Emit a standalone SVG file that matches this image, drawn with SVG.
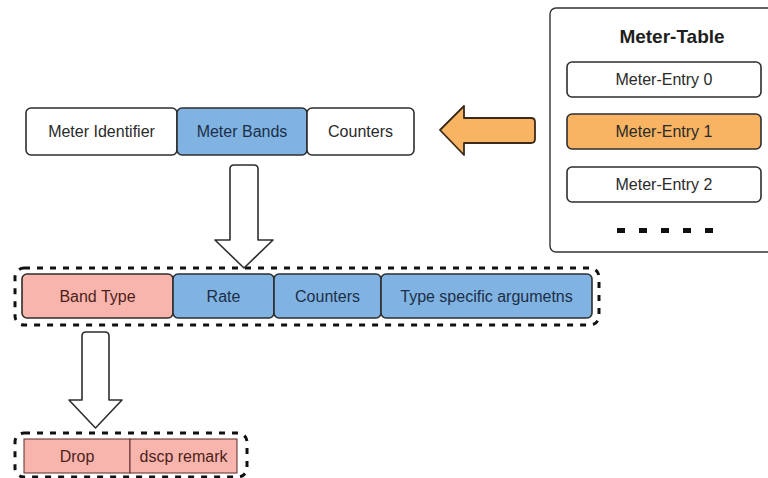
<svg xmlns="http://www.w3.org/2000/svg" width="768" height="478" viewBox="0 0 768 478">
  <style>
    text { font-family: "Liberation Sans", Arial, sans-serif; font-size: 16px; text-anchor: middle; }
    .box { stroke: #2e2e2e; stroke-width: 1.6; }
    .white { fill: #ffffff; }
    .blue { fill: #80b3e2; }
    .pink { fill: #f8b5ad; }
    .orange { fill: #f8b462; }
    .t-dark { fill: #2a2a2a; }
    .t-blue { fill: #1c2f48; }
    .t-pink { fill: #4d1f1b; }
    .group { fill: none; stroke: #111111; stroke-width: 3; stroke-dasharray: 6 7; }
    .arrow { fill: #ffffff; stroke: #2e2e2e; stroke-width: 1.6; stroke-linejoin: round; }
  </style>

  <!-- Meter table -->
  <g id="meter-table">
    <rect x="550" y="8" width="230" height="244" rx="6" fill="#ffffff" stroke="#333333" stroke-width="1.4"/>
    <text x="672" y="43" style="font-size:19px;font-weight:bold" fill="#1e1e1e">Meter-Table</text>
  </g>
  <g id="meter-entry-0">
    <rect class="box white" x="567" y="62" width="194" height="35" rx="5"/>
    <text class="t-dark" x="664" y="85">Meter-Entry 0</text>
  </g>
  <g id="meter-entry-1">
    <rect class="box orange" x="567" y="114" width="194" height="35" rx="5"/>
    <text class="t-dark" x="664" y="137">Meter-Entry 1</text>
  </g>
  <g id="meter-entry-2">
    <rect class="box white" x="567" y="167" width="194" height="35" rx="5"/>
    <text class="t-dark" x="664" y="190">Meter-Entry 2</text>
  </g>
  <g id="more-entries" fill="#111111">
    <rect x="617" y="228" width="8" height="5"/>
    <rect x="639" y="228" width="8" height="5"/>
    <rect x="661" y="228" width="8" height="5"/>
    <rect x="683" y="228" width="8" height="5"/>
    <rect x="705" y="228" width="8" height="5"/>
  </g>

  <!-- Meter entry fields -->
  <g id="meter-identifier">
    <rect class="box white" x="26" y="108" width="151" height="47" rx="5"/>
    <text class="t-dark" x="101.5" y="137">Meter Identifier</text>
  </g>
  <g id="meter-bands">
    <rect class="box blue" x="177" y="108" width="130" height="47" rx="5"/>
    <text class="t-blue" x="242" y="137">Meter Bands</text>
  </g>
  <g id="meter-counters">
    <rect class="box white" x="307" y="108" width="107" height="47" rx="5"/>
    <text class="t-dark" x="360.5" y="137">Counters</text>
  </g>

  <!-- Band fields -->
  <g id="band">
    <rect class="group" x="15" y="268" width="584" height="57" rx="9"/>
  </g>
  <g id="band-type">
    <rect class="box pink" x="22" y="274" width="151" height="44" rx="5"/>
    <text class="t-pink" x="97.5" y="301.5">Band Type</text>
  </g>
  <g id="band-rate">
    <rect class="box blue" x="173" y="274" width="101" height="44" rx="5"/>
    <text class="t-blue" x="223.5" y="301.5">Rate</text>
  </g>
  <g id="band-counters">
    <rect class="box blue" x="274" y="274" width="107" height="44" rx="5"/>
    <text class="t-blue" x="327.5" y="301.5">Counters</text>
  </g>
  <g id="band-args">
    <rect class="box blue" x="381" y="274" width="211" height="44" rx="5"/>
    <text class="t-blue" x="486.5" y="301.5">Type specific argumetns</text>
  </g>

  <!-- Band types -->
  <g id="band-types">
    <rect class="group" x="15" y="433" width="232" height="44" rx="9"/>
  </g>
  <g id="type-drop">
    <rect class="pink" x="24" y="439" width="106" height="34" stroke="#5a2a26" stroke-width="1"/>
    <text class="t-pink" x="77" y="461.5">Drop</text>
  </g>
  <g id="type-dscp">
    <rect class="pink" x="130" y="439" width="107" height="34" stroke="#5a2a26" stroke-width="1"/>
    <text class="t-pink" x="183.5" y="461.5">dscp remark</text>
  </g>

  <!-- Connectors -->
  <g id="connectors">
    <path d="M440,130 L464,106 L464,118 L531,118 Q535,118 535,122 L535,139 Q535,143 531,143 L464,143 L464,155 Z" fill="#f8b462" stroke="#3a2a1a" stroke-width="1.8" stroke-linejoin="round"/>
    <path class="arrow" d="M234,165 L254,165 Q258,165 258,169 L258,240 L273,240 L244,268 L215,240 L230,240 L230,169 Q230,165 234,165 Z"/>
    <path class="arrow" d="M86,332 L105,332 Q109,332 109,336 L109,400 L122,400 L95.5,428 L69,400 L82,400 L82,336 Q82,332 86,332 Z"/>
  </g>
</svg>
